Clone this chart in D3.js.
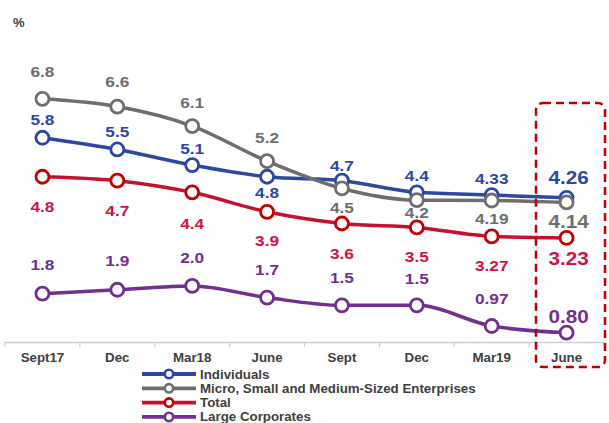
<!DOCTYPE html>
<html><head><meta charset="utf-8">
<script src="https://cdn.jsdelivr.net/npm/d3@7"></script>
<style>body{margin:0;background:#fff}svg{display:block}text{font-family:"Liberation Sans",Arial,sans-serif;font-weight:bold}</style>
</head><body><svg id="c" width="609" height="423"></svg>
<script>
const categories = ["Sept17","Dec","Mar18","June","Sept","Dec","Mar19","June"];
const individuals = [5.8,5.5,5.1,4.8,4.7,4.4,4.33,4.26];
const msme = [6.8,6.6,6.1,5.2,4.5,4.2,4.19,4.14];
const total = [4.8,4.7,4.4,3.9,3.6,3.5,3.27,3.23];
const large = [1.8,1.9,2.0,1.7,1.5,1.5,0.97,0.80];
const labelsIndiv = ["5.8","5.5","5.1","4.8","4.7","4.4","4.33","4.26"];
const labelsMsme = ["6.8","6.6","6.1","5.2","4.5","4.2","4.19","4.14"];
const labelsTotal = ["4.8","4.7","4.4","3.9","3.6","3.5","3.27","3.23"];
const labelsLarge = ["1.8","1.9","2.0","1.7","1.5","1.5","0.97","0.80"];
const seriesNames = ["Individuals","Micro, Small and Medium-Sized Enterprises","Total","Large Corporates"];

const svg = d3.select("#c");
const x = d3.scaleBand().domain(d3.range(categories.length)).range([5,604]);
const y = d3.scaleLinear().domain([0.56,7]).range([342,91]);
const cx = i => x(i) + x.bandwidth()/2;

const series = [
  {name:seriesNames[0], vals:individuals, labels:labelsIndiv, color:"#2C48A0", lcolor:"#2C48A0",
   off:[-18,-18,-17,16,-15,-17,-17,-20]},
  {name:seriesNames[1], vals:msme, labels:labelsMsme, color:"#6E6E6E", lcolor:"#6E6E6E",
   off:[-27,-25,-24,-24,19,12,18,19]},
  {name:seriesNames[2], vals:total, labels:labelsTotal, color:"#C8102E", lcolor:"#D21242",
   off:[30,30,31,29,30,29,29,21]},
  {name:seriesNames[3], vals:large, labels:labelsLarge, color:"#71308F", lcolor:"#71308F",
   off:[-29,-29,-28,-28,-28,-27,-28,-16]}
];
const markerStroke = {"#C8102E":"#C00000"};

// axis
svg.append("line").attr("x1",5).attr("x2",604).attr("y1",342.5).attr("y2",342.5)
  .attr("stroke","#cfcfcf").attr("stroke-width",1.5);
for (let i=0;i<=categories.length;i++){
  const xx = i<categories.length ? x(i) : 604;
  svg.append("line").attr("x1",xx).attr("x2",xx).attr("y1",342).attr("y2",347)
    .attr("stroke","#cfcfcf").attr("stroke-width",1.2);
}
svg.selectAll("text.cat").data(categories).join("text").attr("class","cat")
  .attr("x",(d,i)=>cx(i)).attr("y",362).attr("text-anchor","middle")
  .attr("font-size",13.3).attr("fill","#404040").text(d=>d);

svg.append("text").attr("x",13).attr("y",27).attr("font-size",13).attr("fill","#404040").text("%");

const line = d3.line().x((d,i)=>cx(i)).y(d=>y(d)).curve(d3.curveMonotoneX);

series.forEach(s=>{
  svg.append("path").attr("d",line(s.vals)).attr("fill","none")
    .attr("stroke",s.color).attr("stroke-width",3.5);
});
series.forEach(s=>{
  svg.selectAll(null).data(s.vals).join("circle")
    .attr("cx",(d,i)=>cx(i)).attr("cy",d=>y(d)).attr("r",6.5)
    .attr("fill","#fff").attr("stroke",markerStroke[s.color]||s.color).attr("stroke-width",2.8);
});
series.forEach(s=>{
  svg.selectAll(null).data(s.labels).join("text")
    .attr("transform",(d,i)=>`translate(${cx(i)+(i===7?2:0)},${y(s.vals[i])+s.off[i]+(i===7?6.5:5.5)}) scale(1.15,1)`)
    .attr("text-anchor","middle").attr("font-size",(d,i)=>i===7?18:15)
    .attr("fill",s.lcolor).text(d=>d);
});

// highlight box
svg.append("rect").attr("x",536).attr("y",103).attr("width",69).attr("height",264).attr("rx",7)
  .attr("fill","none").attr("stroke","#C00000").attr("stroke-width",2.5).attr("stroke-dasharray","8,5");

// legend
const lg = svg.append("g");
series.forEach((s,i)=>{
  const yy = 374 + i*14.3;
  lg.append("line").attr("x1",142).attr("x2",196).attr("y1",yy).attr("y2",yy)
    .attr("stroke",s.color).attr("stroke-width",3.8);
  lg.append("circle").attr("cx",169).attr("cy",yy).attr("r",4.2).attr("fill","#fff")
    .attr("stroke",markerStroke[s.color]||s.color).attr("stroke-width",2.6);
  lg.append("text").attr("x",200).attr("y",yy+4.5).attr("font-size",13.3).attr("fill","#404040").text(s.name);
});
</script></body></html>
